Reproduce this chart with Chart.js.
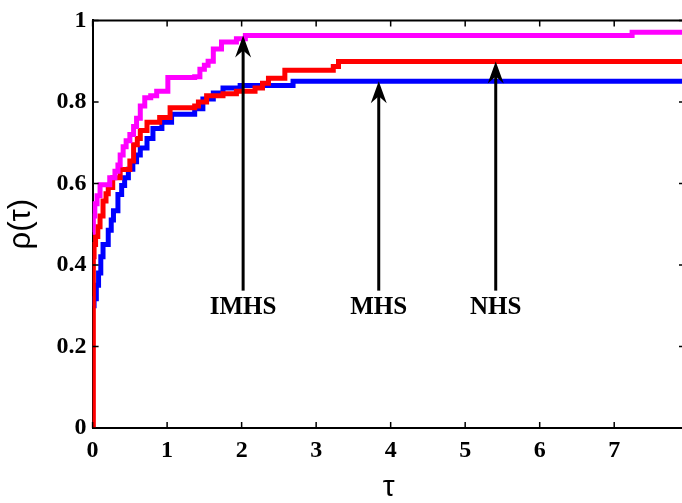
<!DOCTYPE html>
<html>
<head>
<meta charset="utf-8">
<script src="https://cdn.jsdelivr.net/npm/chart.js@4.4.1/dist/chart.umd.min.js"></script>
<style>
  html, body { margin: 0; padding: 0; background: #fff; overflow: hidden; }
  #wrap { width: 682px; height: 503px; overflow: hidden; }
</style>
</head>
<body>
<div id="wrap"><canvas id="profile" width="686" height="503"></canvas></div>
<script>
"use strict";

// performance profile data (tau, rho)
var imhsX = [0, 0.005, 0.01, 0.03, 0.06, 0.1, 0.23, 0.3, 0.34, 0.37, 0.41, 0.45, 0.5, 0.55, 0.59, 0.64, 0.70, 0.78, 0.86, 1.01, 1.37, 1.44, 1.50, 1.55, 1.62, 1.73, 1.93, 2.05, 7.24, 7.95];
var imhsY = [0.48, 0.50, 0.52, 0.55, 0.57, 0.597, 0.614, 0.63, 0.645, 0.67, 0.69, 0.705, 0.72, 0.74, 0.76, 0.79, 0.81, 0.815, 0.826, 0.86, 0.862, 0.88, 0.89, 0.90, 0.93, 0.947, 0.955, 0.963, 0.971, 0.971];

var nhsX = [0, 0.01, 0.02, 0.04, 0.07, 0.10, 0.14, 0.18, 0.21, 0.27, 0.37, 0.5, 0.55, 0.6, 0.64, 0.73, 0.90, 1.04, 1.37, 1.42, 1.53, 1.75, 1.93, 2.18, 2.28, 2.36, 2.58, 3.23, 3.30, 7.95];
var nhsY = [0, 0.42, 0.45, 0.47, 0.494, 0.52, 0.557, 0.575, 0.59, 0.614, 0.634, 0.655, 0.695, 0.71, 0.73, 0.75, 0.762, 0.786, 0.79, 0.80, 0.815, 0.82, 0.826, 0.834, 0.846, 0.858, 0.878, 0.887, 0.899, 0.899];

var mhsX = [0, 0.02, 0.05, 0.08, 0.11, 0.14, 0.21, 0.25, 0.28, 0.34, 0.39, 0.43, 0.48, 0.54, 0.59, 0.64, 0.73, 0.81, 0.93, 1.06, 1.37, 1.48, 1.62, 1.75, 1.98, 2.69, 7.95];
var mhsY = [0.30, 0.317, 0.35, 0.38, 0.42, 0.45, 0.485, 0.51, 0.533, 0.573, 0.595, 0.614, 0.635, 0.653, 0.67, 0.687, 0.71, 0.735, 0.75, 0.77, 0.783, 0.807, 0.822, 0.834, 0.84, 0.851, 0.851];

// arrow annotations
var arrowLabels = ["IMHS", "MHS", "NHS"];
var arrowX = [2.02, 3.84, 5.41];
var arrowTipY = [0.963, 0.851, 0.899];
var arrowBaseY = 0.337;
var labelY = 0.296;

var xMin = 0, xMax = 7.95;
var yMin = 0, yMax = 1;

function toPoints(xs, ys) {
    return xs.map(function (x, i) { return { x: x, y: ys[i] }; });
}

var serif = "'Liberation Serif', 'Times New Roman', serif";
var sans = "'Liberation Sans', Arial, sans-serif";

var framePlugin = {
    id: "frame",
    afterDatasetsDraw: function (chart) {
        var ctx = chart.ctx;
        var a = chart.chartArea;
        var sx = chart.scales.x;
        var sy = chart.scales.y;
        ctx.save();
        // top border
        ctx.strokeStyle = "#000";
        ctx.lineWidth = 2;
        ctx.beginPath();
        ctx.moveTo(a.left, a.top);
        ctx.lineTo(a.right, a.top);
        ctx.stroke();
        // inward tick marks
        ctx.lineWidth = 1.5;
        ctx.beginPath();
        sx.ticks.forEach(function (t) {
            var px = sx.getPixelForValue(t.value);
            ctx.moveTo(px, a.bottom); ctx.lineTo(px, a.bottom - 6);
            ctx.moveTo(px, a.top); ctx.lineTo(px, a.top + 6);
        });
        sy.ticks.forEach(function (t) {
            var py = sy.getPixelForValue(t.value);
            ctx.moveTo(a.left, py); ctx.lineTo(a.left + 6, py);
            ctx.moveTo(a.right, py); ctx.lineTo(a.right - 6, py);
        });
        ctx.stroke();

        // arrows and labels
        ctx.fillStyle = "#000";
        ctx.font = "bold 25px " + serif;
        ctx.textAlign = "center";
        ctx.textBaseline = "middle";
        arrowLabels.forEach(function (lab, i) {
            var px = sx.getPixelForValue(arrowX[i]);
            var tip = sy.getPixelForValue(arrowTipY[i]);
            var base = sy.getPixelForValue(arrowBaseY);
            ctx.lineWidth = 3;
            ctx.beginPath();
            ctx.moveTo(px, base);
            ctx.lineTo(px, tip + 12);
            ctx.stroke();
            ctx.beginPath();
            ctx.moveTo(px, tip);
            ctx.lineTo(px - 8, tip + 22);
            ctx.lineTo(px, tip + 15);
            ctx.lineTo(px + 8, tip + 22);
            ctx.closePath();
            ctx.fill();
            ctx.fillText(lab, px, sy.getPixelForValue(labelY));
        });
        ctx.restore();
    }
};

var ctxProfile = document.getElementById("profile").getContext("2d");
new Chart(ctxProfile, {
    type: "line",
    data: {
        datasets: [{
            label: "IMHS",
            data: toPoints(imhsX, imhsY),
            borderColor: "#ff00ff",
            borderWidth: 5,
            stepped: "before",
            pointRadius: 0,
            fill: false
        }, {
            label: "NHS",
            data: toPoints(nhsX, nhsY),
            borderColor: "#ff0000",
            borderWidth: 5,
            stepped: "before",
            pointRadius: 0,
            fill: false
        }, {
            label: "MHS",
            data: toPoints(mhsX, mhsY),
            borderColor: "#0000ff",
            borderWidth: 5,
            stepped: "before",
            pointRadius: 0,
            fill: false
        }]
    },
    options: {
        responsive: false,
        animation: false,
        devicePixelRatio: 1,
        layout: { padding: { top: 13, right: 1, left: 0, bottom: 0 } },
        plugins: {
            legend: { display: false },
            tooltip: { enabled: false }
        },
        scales: {
            x: {
                type: "linear",
                min: xMin,
                max: xMax,
                grid: { drawOnChartArea: false, drawTicks: false },
                border: { display: true, color: "#000", width: 2 },
                ticks: {
                    stepSize: 1,
                    includeBounds: false,
                    padding: 8,
                    color: "#000",
                    maxRotation: 0,
                    font: { family: serif, size: 24, weight: "bold" }
                },
                title: {
                    display: true,
                    text: "τ",
                    color: "#000",
                    padding: { top: 0, bottom: 0 },
                    font: { family: sans, size: 30, lineHeight: 1 }
                },
                afterFit: function (scale) { scale.height = 75; }
            },
            y: {
                min: yMin,
                max: yMax,
                grid: { drawOnChartArea: false, drawTicks: false },
                border: { display: true, color: "#000", width: 2 },
                ticks: {
                    stepSize: 0.2,
                    padding: 6,
                    color: "#000",
                    font: { family: serif, size: 24, weight: "bold" },
                    callback: function (v) { return String(Math.round(v * 10) / 10); }
                },
                title: {
                    display: true,
                    text: "ρ(τ)",
                    color: "#000",
                    padding: { top: 3, bottom: 3 },
                    font: { family: sans, size: 31, lineHeight: 1.2 }
                },
                afterFit: function (scale) { scale.width = 92.6; }
            }
        }
    },
    plugins: [framePlugin]
});
</script>
</body>
</html>
